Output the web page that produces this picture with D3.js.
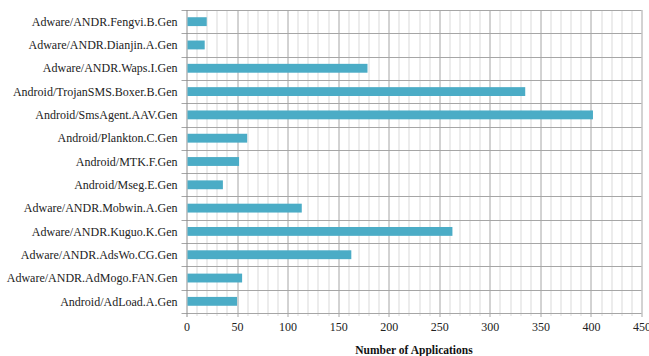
<!DOCTYPE html>
<html><head><meta charset="utf-8">
<script src="https://cdn.jsdelivr.net/npm/d3@7"></script>
<style>html,body{margin:0;padding:0;background:#fff;} text{font-family:"Liberation Serif","Times New Roman",serif;}</style>
</head><body>
<script>
const categories = [
  "Adware/ANDR.Fengvi.B.Gen",
  "Adware/ANDR.Dianjin.A.Gen",
  "Adware/ANDR.Waps.I.Gen",
  "Android/TrojanSMS.Boxer.B.Gen",
  "Android/SmsAgent.AAV.Gen",
  "Android/Plankton.C.Gen",
  "Android/MTK.F.Gen",
  "Android/Mseg.E.Gen",
  "Adware/ANDR.Mobwin.A.Gen",
  "Adware/ANDR.Kuguo.K.Gen",
  "Adware/ANDR.AdsWo.CG.Gen",
  "Adware/ANDR.AdMogo.FAN.Gen",
  "Android/AdLoad.A.Gen"
];
const values = [20, 18, 179, 335, 402, 60, 52, 36, 114, 263, 163, 55, 50];
const xTicks = [0, 50, 100, 150, 200, 250, 300, 350, 400, 450];
const xTitle = "Number of Applications";

const W = 649, H = 356;
const m = {left: 186.5, right: 7.5, top: 10, bottom: 43};
const svg = d3.select("body").append("svg").attr("width", W).attr("height", H);
const iw = W - m.left - m.right, ih = H - m.top - m.bottom;
const g = svg.append("g").attr("transform", `translate(${m.left},${m.top})`);

const x = d3.scaleLinear().domain([0, 450]).range([0, iw]);
const y = d3.scaleBand().domain(categories).range([0, ih]).paddingInner(0.62).paddingOuter(0.31);

// minor vertical grid
const minor = d3.range(10, 451, 10).filter(v => v % 50 !== 0);
g.selectAll(".minor").data(minor).enter().append("line")
  .attr("x1", d => Math.round(x(d)) + 0.5).attr("x2", d => Math.round(x(d)) + 0.5)
  .attr("y1", 0).attr("y2", ih + 3)
  .attr("stroke", "#d9d9d9").attr("stroke-width", 1);
// major vertical grid
g.selectAll(".major").data(xTicks.filter(v => v > 0)).enter().append("line")
  .attr("x1", d => Math.round(x(d)) + 0.5).attr("x2", d => Math.round(x(d)) + 0.5)
  .attr("y1", 0).attr("y2", ih + 4)
  .attr("stroke", "#a6a6a6").attr("stroke-width", 1);
// horizontal category boundaries
const step = y.step();
const bounds = d3.range(0, categories.length + 1).map(i => i * step);
g.selectAll(".hb").data(bounds).enter().append("line")
  .attr("x1", -5).attr("x2", iw)
  .attr("y1", d => Math.round(d) + 0.5).attr("y2", d => Math.round(d) + 0.5)
  .attr("stroke", "#a6a6a6").attr("stroke-width", 1);
// left axis line
g.append("line").attr("x1", 0.5).attr("x2", 0.5).attr("y1", 0).attr("y2", ih + 4)
  .attr("stroke", "#8c8c8c").attr("stroke-width", 1);

// bars
g.selectAll(".bar").data(values).enter().append("rect")
  .attr("x", x(0) + 1)
  .attr("y", (d, i) => y(categories[i]))
  .attr("width", d => x(d) - x(0) - 1)
  .attr("height", y.bandwidth())
  .attr("fill", "#4bacc6");

// category labels
g.selectAll(".lab").data(categories).enter().append("text")
  .attr("x", -9).attr("y", d => y(d) + y.bandwidth() / 2)
  .attr("dy", "0.35em").attr("text-anchor", "end")
  .attr("font-size", 12).attr("fill", "#222").text(d => d);

// x tick labels
const xa = d3.axisBottom(x).tickValues(xTicks).tickSize(0).tickPadding(0);
const axg = g.append("g").attr("transform", `translate(0,${ih})`).call(xa);
axg.select(".domain").remove();
axg.selectAll("text")
  .attr("y", 14).attr("dy", "0.35em")
  .attr("font-family", null)
  .attr("font-size", 12).attr("fill", "#222");
axg.attr("font-family", null);

// x title
svg.append("text").attr("x", 414).attr("y", 350).attr("dy", "0.35em")
  .attr("text-anchor", "middle")
  .attr("font-weight", "bold").attr("font-size", 11.5).attr("fill", "#111")
  .text(xTitle);
</script>
</body></html>
